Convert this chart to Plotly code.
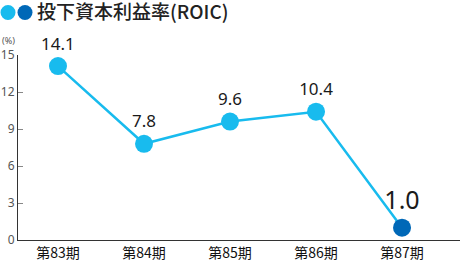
import plotly.graph_objects as go

categories = ["第83期", "第84期", "第85期", "第86期", "第87期"]
roic = [14.1, 7.8, 9.6, 10.4, 1.0]
labels = ["14.1", "7.8", "9.6", "10.4", "1.0"]
y_ticks = [0, 3, 6, 9, 12, 15]

LIGHT = "#18BBEE"
DARK = "#0068B7"
W, H = 460, 262
ML, MR, MT, MB = 18, 0, 55, 20
PW, PH = W - ML - MR, H - MT - MB

def px(x):
    return (x - ML) / PW

def py(y):
    return (H - MB - y) / PH

fig = go.Figure()
fig.add_trace(go.Scatter(
    x=categories, y=roic, mode="lines",
    line=dict(color=LIGHT, width=2.5), hoverinfo="skip", showlegend=False,
    cliponaxis=False,
))
fig.add_trace(go.Scatter(
    x=categories, y=roic, mode="markers+text",
    text=labels, textposition="top center",
    textfont=dict(size=[17, 17, 17, 17, 25], color="#1a1a1a",
                  family="Noto Sans, Open Sans, sans-serif"),
    marker=dict(size=18, color=[LIGHT, LIGHT, LIGHT, LIGHT, DARK]),
    showlegend=False, cliponaxis=False,
))

fig.update_layout(
    width=W, height=H,
    margin=dict(l=ML, r=MR, t=MT, b=MB),
    paper_bgcolor="white", plot_bgcolor="white",
    xaxis=dict(
        type="category", range=[-0.465, 4.674],
        showgrid=False, zeroline=False,
        showline=True, linecolor="#333", linewidth=1.2,
        ticks="", tickfont=dict(size=14, color="#111",
                                family="Noto Sans CJK JP"),
    ),
    yaxis=dict(
        range=[0, 15], tickvals=y_ticks,
        showgrid=False, zeroline=False,
        showline=True, linecolor="#333", linewidth=1.2,
        ticks="inside", ticklen=5, tickcolor="#888",
        tickfont=dict(size=12, color="#555",
                      family="Noto Sans, sans-serif"),
    ),
    shapes=[
        dict(type="circle", xref="paper", yref="paper",
             x0=px(0.5), x1=px(15.5), y0=py(19.5), y1=py(4.5),
             fillcolor=LIGHT, line=dict(width=0)),
        dict(type="circle", xref="paper", yref="paper",
             x0=px(17.5), x1=px(32.5), y0=py(19.5), y1=py(4.5),
             fillcolor=DARK, line=dict(width=0)),
    ],
    annotations=[
        dict(text="投下資本利益率(ROIC)", xref="paper", yref="paper",
             x=px(35), y=py(10), xanchor="left", yanchor="middle",
             showarrow=False,
             font=dict(size=19, color="#222", family="Noto Sans CJK JP",
                       weight=500)),
        dict(text="(%)", xref="paper", yref="paper",
             x=px(0), y=py(40), xanchor="left", yanchor="middle",
             showarrow=False,
             font=dict(size=9, color="#555", family="Noto Sans, sans-serif")),
    ],
)

fig.write_html("out.html")
